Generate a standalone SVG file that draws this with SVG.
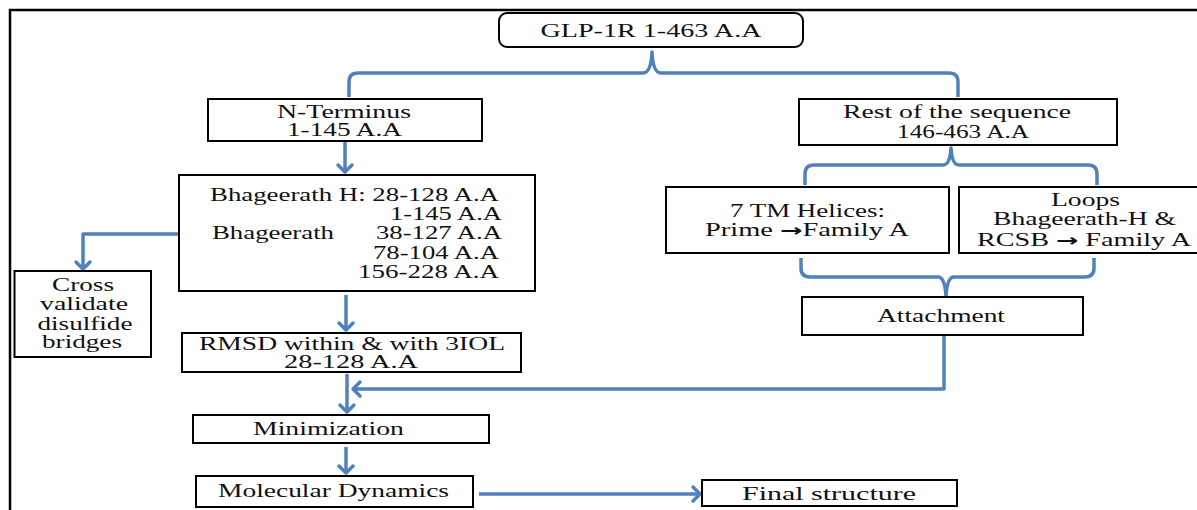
<svg xmlns="http://www.w3.org/2000/svg" width="1197" height="510" viewBox="0 0 1197 510">
  <style>
    .box { fill: #ffffff; stroke: #000000; stroke-width: 2; }
    text { font-family: 'Liberation Serif', 'DejaVu Serif', serif; font-size: 18px; fill: #111111; }
    .mid { text-anchor: middle; }
    .arr { font-family: 'DejaVu Sans', sans-serif; font-weight: bold; font-size: 17px; }
    .conn { fill: none; stroke: #4F81BD; stroke-width: 3.5; stroke-linejoin: round; }
  </style>
  <defs>
    <marker id="chev" markerUnits="userSpaceOnUse" viewBox="-12 -10 16 20" refX="0" refY="0" markerWidth="16" markerHeight="20" orient="auto" overflow="visible">
      <path d="M-7,-7 L0,0 L-7,7" fill="none" stroke="#4F81BD" stroke-width="3.5" stroke-linecap="round" stroke-linejoin="round"/>
    </marker>
  </defs>

  <rect x="0" y="0" width="1197" height="510" fill="#ffffff"/>
  <!-- outer frame -->
  <rect x="10" y="10" width="1200" height="520" fill="none" stroke="#000000" stroke-width="2.5"/>

  <g id="connectors">
    <!-- brace under GLP-1R -->
    <path class="conn" d="M349,97 L349,82 Q349,73 358,73 L643,73 Q651,73 652,52 Q653,73 661,73 L949,73 Q958,73 958,82 L958,97"/>
    <!-- brace under rest of sequence -->
    <path class="conn" d="M805,185 L805,174 Q805,165 814,165 L943,165 Q950,165 951,148 Q952,165 959,165 L1088,165 Q1097,165 1097,174 L1097,185"/>
    <!-- brace joining helices and loops -->
    <path class="conn" d="M801,258 L801,268 Q801,277 810,277 L938,277 Q945,277 946,297 Q947,277 954,277 L1085,277 Q1094,277 1094,268 L1094,258"/>
    <path class="conn" d="M345,141 L345,172" marker-end="url(#chev)"/>
    <path class="conn" d="M179,234 L83,234 L83,269" marker-end="url(#chev)"/>
    <path class="conn" d="M346,295 L346,330" marker-end="url(#chev)"/>
    <path class="conn" d="M347,374 L347,412" marker-end="url(#chev)"/>
    <path class="conn" d="M944,335 L944,389 L353,389" marker-end="url(#chev)"/>
    <path class="conn" d="M346,447 L346,473" marker-end="url(#chev)"/>
    <path class="conn" d="M479,494 L700,494" marker-end="url(#chev)"/>
  </g>

  <g id="glp1r">
    <rect class="box" x="499" y="13" width="304" height="34" rx="8" ry="8"/>
    <text class="mid" x="651" y="37" textLength="221" lengthAdjust="spacingAndGlyphs">GLP-1R  1-463 A.A</text>
  </g>

  <g id="n-terminus">
    <rect class="box" x="208" y="99" width="274" height="42"/>
    <text class="mid" x="344" y="118" textLength="134" lengthAdjust="spacingAndGlyphs">N-Terminus</text>
    <text class="mid" x="344.5" y="136" textLength="115" lengthAdjust="spacingAndGlyphs">1-145 A.A</text>
  </g>

  <g id="rest-sequence">
    <rect class="box" x="799" y="99" width="318" height="46"/>
    <text class="mid" x="957" y="118" textLength="228" lengthAdjust="spacingAndGlyphs">Rest of the sequence</text>
    <text class="mid" x="963" y="138" textLength="132" lengthAdjust="spacingAndGlyphs">146-463 A.A</text>
  </g>

  <g id="bhageerath">
    <rect class="box" x="179" y="175" width="356" height="116"/>
    <text x="210" y="201" textLength="289" lengthAdjust="spacingAndGlyphs">Bhageerath H: 28-128 A.A</text>
    <text x="390" y="220" textLength="112" lengthAdjust="spacingAndGlyphs">1-145 A.A</text>
    <text x="212" y="239" textLength="122" lengthAdjust="spacingAndGlyphs">Bhageerath</text>
    <text x="376" y="239" textLength="126" lengthAdjust="spacingAndGlyphs">38-127 A.A</text>
    <text x="373" y="259" textLength="126" lengthAdjust="spacingAndGlyphs">78-104 A.A</text>
    <text x="358" y="278" textLength="141" lengthAdjust="spacingAndGlyphs">156-228 A.A</text>
  </g>

  <g id="cross-validate">
    <rect class="box" x="14.5" y="271" width="136.5" height="86"/>
    <text class="mid" x="83" y="291" textLength="62" lengthAdjust="spacingAndGlyphs">Cross</text>
    <text class="mid" x="84" y="310" textLength="88" lengthAdjust="spacingAndGlyphs">validate</text>
    <text class="mid" x="85" y="330" textLength="95" lengthAdjust="spacingAndGlyphs">disulfide</text>
    <text class="mid" x="82" y="348" textLength="80" lengthAdjust="spacingAndGlyphs">bridges</text>
  </g>

  <g id="rmsd">
    <rect class="box" x="182" y="333" width="339" height="39"/>
    <text class="mid" x="352" y="350" textLength="306" lengthAdjust="spacingAndGlyphs">RMSD within &amp; with 3IOL</text>
    <text class="mid" x="351" y="368" textLength="134" lengthAdjust="spacingAndGlyphs">28-128 A.A</text>
  </g>

  <g id="tm-helices">
    <rect class="box" x="666" y="187" width="283" height="66"/>
    <text class="mid" x="807.5" y="217" textLength="155" lengthAdjust="spacingAndGlyphs">7 TM Helices:</text>
    <text class="mid" x="807" y="236" textLength="204" lengthAdjust="spacingAndGlyphs">Prime <tspan class="arr">→</tspan>Family A</text>
  </g>

  <g id="loops">
    <rect class="box" x="959" y="187" width="252" height="66"/>
    <text class="mid" x="1085.5" y="206" textLength="69" lengthAdjust="spacingAndGlyphs">Loops</text>
    <text class="mid" x="1084.5" y="225" textLength="183" lengthAdjust="spacingAndGlyphs">Bhageerath-H &amp;</text>
    <text class="mid" x="1084" y="246" textLength="214" lengthAdjust="spacingAndGlyphs">RCSB <tspan class="arr">→</tspan> Family A</text>
  </g>

  <g id="attachment">
    <rect class="box" x="802" y="297" width="281" height="38"/>
    <text class="mid" x="941" y="322" textLength="128" lengthAdjust="spacingAndGlyphs">Attachment</text>
  </g>

  <g id="minimization">
    <rect class="box" x="193" y="415" width="296" height="28"/>
    <text class="mid" x="328.5" y="435" textLength="151" lengthAdjust="spacingAndGlyphs">Minimization</text>
  </g>

  <g id="molecular-dynamics">
    <rect class="box" x="196" y="476" width="277" height="31"/>
    <text class="mid" x="333.5" y="497" textLength="231" lengthAdjust="spacingAndGlyphs">Molecular Dynamics</text>
  </g>

  <g id="final-structure">
    <rect class="box" x="702" y="480" width="255" height="26"/>
    <text class="mid" x="829" y="500" textLength="174" lengthAdjust="spacingAndGlyphs">Final structure</text>
  </g>
</svg>
